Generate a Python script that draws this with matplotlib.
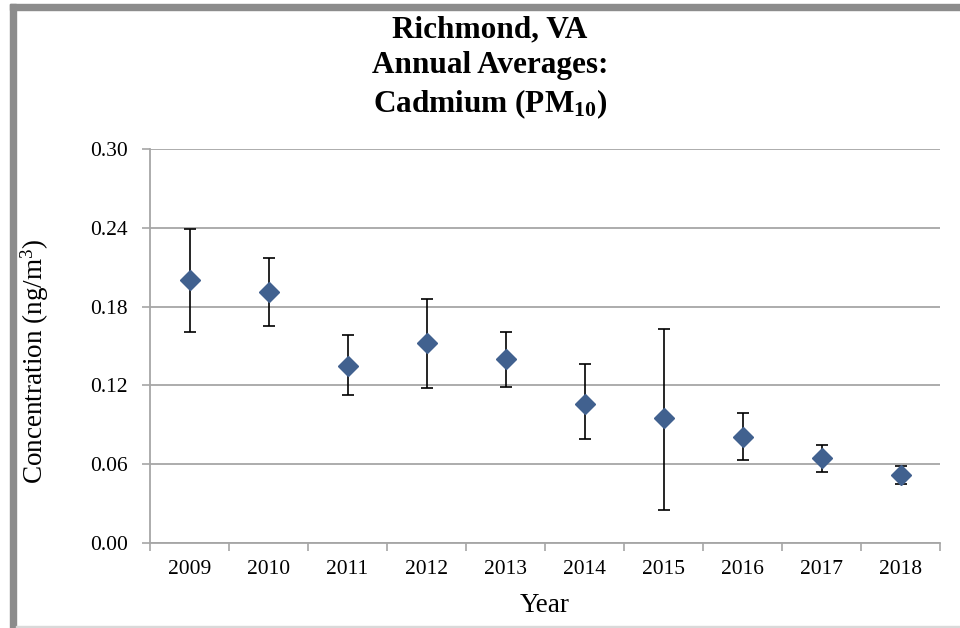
"""
Richmond, VA annual average cadmium (PM10) with error bars
"""
import numpy as np
import matplotlib
matplotlib.use("Agg")
import matplotlib.pyplot as plt
from matplotlib.patches import Rectangle

years = ["2009", "2010", "2011", "2012", "2013", "2014", "2015", "2016", "2017", "2018"]
means = [0.200, 0.191, 0.135, 0.152, 0.140, 0.106, 0.095, 0.081, 0.065, 0.052]
upper = [0.239, 0.217, 0.158, 0.186, 0.161, 0.136, 0.163, 0.099, 0.075, 0.059]
lower = [0.161, 0.165, 0.113, 0.118, 0.119, 0.079, 0.025, 0.063, 0.054, 0.045]
y_ticks = [0.00, 0.06, 0.12, 0.18, 0.24, 0.30]

plt.rcParams["font.family"] = ["Liberation Serif", "DejaVu Serif"]
plt.rcParams["mathtext.fontset"] = "custom"
plt.rcParams["mathtext.rm"] = "Liberation Serif"
plt.rcParams["mathtext.it"] = "Liberation Serif:italic"
plt.rcParams["mathtext.bf"] = "Liberation Serif:bold"

W, H = 960, 628
fig = plt.figure(figsize=(W / 100, H / 100), dpi=100)
ax = fig.add_axes([150 / W, 1 - 543 / H, 790 / W, 394 / H])

x = np.arange(len(years))
m = np.array(means)
yerr = [m - np.array(lower), np.array(upper) - m]
ax.errorbar(x, m, yerr=yerr, fmt="D", color="#41618f", markersize=10,
            ecolor="black", elinewidth=1.2, capsize=4, capthick=1.2, zorder=3)

ax.set_xlim(-0.5, len(years) - 0.5)
ax.set_ylim(0, 0.30)
ax.set_yticks(y_ticks)
ax.set_yticklabels([f"{t:.2f}" for t in y_ticks], fontsize=15.5)
ax.yaxis.grid(True, color="#a6a6a6", linewidth=1.3)
ax.set_axisbelow(True)

# category labels between tick marks (Excel style)
ax.set_xticks(np.arange(len(years) + 1) - 0.5)
ax.set_xticklabels([])
ax.set_xticks(x, minor=True)
ax.set_xticklabels(years, minor=True, fontsize=15.5)
ax.tick_params(axis="x", which="minor", length=0, pad=12)
ax.tick_params(axis="x", which="major", length=6, color="#a6a6a6", width=1.2)
ax.tick_params(axis="y", length=6, color="#a6a6a6", width=1.2, pad=10)

for side in ["top", "right"]:
    ax.spines[side].set_visible(False)
for side in ["left", "bottom"]:
    ax.spines[side].set_color("#a6a6a6")
    ax.spines[side].set_linewidth(1.3)

ax.set_xlabel("Year", fontsize=19.5, labelpad=10)
ax.set_ylabel("Concentration (ng/m$^3$)", fontsize=19.5)
ax.yaxis.set_label_coords(-0.125, 0.46)

fig.text(490 / W, 1 - 68 / H,
         "Richmond, VA\nAnnual Averages:\nCadmium (PM$_{\\mathbf{10}}$)",
         ha="center", va="center", fontsize=22.5, fontweight="bold",
         linespacing=1.3)

# outer chart frame
fig.patches.append(Rectangle((10 / W, 1 - 10 / H), 950 / W, 6 / H,
                             transform=fig.transFigure, color="#8c8c8c"))
fig.patches.append(Rectangle((10 / W, 0), 6 / W, 1 - 4 / H,
                             transform=fig.transFigure, color="#8c8c8c"))
fig.patches.append(Rectangle((16 / W, 0), 944 / W, 2 / H,
                             transform=fig.transFigure, color="#d9d9d9"))

plt.savefig("out.png", dpi=100)
